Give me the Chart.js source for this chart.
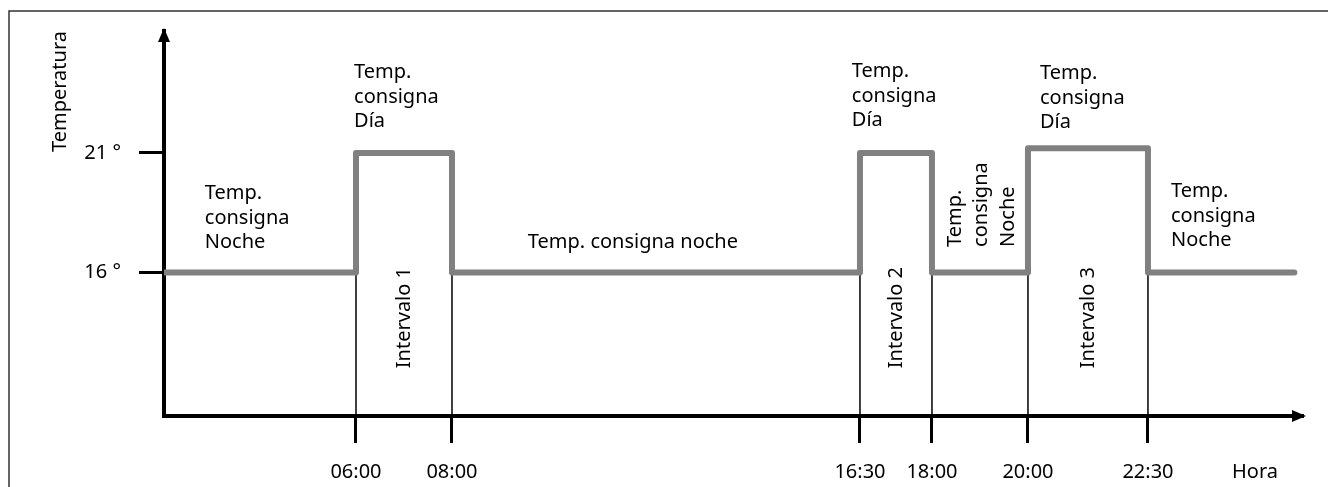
<!DOCTYPE html>
<html>
<head>
<meta charset="utf-8">
<script src="https://cdn.jsdelivr.net/npm/chart.js@4.4.0/dist/chart.umd.min.js"></script>
<style>
	html, body { margin: 0; padding: 0; background: #fff; }
	canvas { display: block; }
</style>
</head>
<body>
<canvas id="myChart" width="1328" height="487"></canvas>
<script>
	// hora del cambio (h) y temperatura de consigna desde ese momento
	var horas = [2, 6, 8, 16.5, 18, 20, 22.5, 25.55];
	var temps = [16, 21, 16, 21, 16, 21.2, 16, 16];

	var xTicks = [6, 8, 16.5, 18, 20, 22.5];
	var xTickLabels = ['06:00', '08:00', '16:30', '18:00', '20:00', '22:30'];
	var yTicks = [16, 21];
	var yTickLabels = ['16 °', '21 °'];

	var intervalos = ['Intervalo 1', 'Intervalo 2', 'Intervalo 3'];

	// textos del esquema (posicion en horas / grados)
	var etiquetas = [
		{ lineas: ['Temp.', 'consigna', 'Noche'], x: 2.85, y: 19.08 },
		{ lineas: ['Temp.', 'consigna', 'Día'], x: 5.96, y: 24.14 },
		{ lineas: ['Temp. consigna noche'], x: 9.58, y: 17.03 },
		{ lineas: ['Temp.', 'consigna', 'Día'], x: 16.33, y: 24.18 },
		{ lineas: ['Temp.', 'consigna', 'Día'], x: 20.25, y: 24.1 },
		{ lineas: ['Temp.', 'consigna', 'Noche'], x: 22.98, y: 19.16 },
		{ lineas: ['Temp.', 'consigna', 'Noche'], x: 18.6, y: 17.07, vertical: true },
		{ lineas: ['Hora'], x: 24.25, y: 7.4 }
	];

	Chart.defaults.font.family = "'Noto Sans', sans-serif";
	Chart.defaults.font.size = 20;
	Chart.defaults.color = '#000';

	function alinear(p, w) {
		return Math.round(p - w / 2) + w / 2;
	}

	var dibujo = {
		id : 'dibujo',
		beforeDraw : function(chart) {
			var ctx = chart.ctx;
			ctx.save();
			ctx.strokeStyle = '#333';
			ctx.lineWidth = 1.5;
			ctx.beginPath();
			ctx.moveTo(9, chart.height);
			ctx.lineTo(9, 11);
			ctx.lineTo(chart.width, 11);
			ctx.stroke();
			ctx.restore();
		},
		beforeDatasetsDraw : function(chart) {
			var ctx = chart.ctx, x = chart.scales.x, y = chart.scales.y;
			var bajo = y.getPixelForValue(Math.min.apply(null, temps));
			ctx.save();
			ctx.strokeStyle = '#000';
			ctx.lineWidth = 1.5;
			xTicks.forEach(function(t) {
				var px = x.getPixelForValue(t);
				ctx.beginPath();
				ctx.moveTo(px, bajo);
				ctx.lineTo(px, chart.chartArea.bottom);
				ctx.stroke();
			});
			ctx.restore();
		},
		afterDraw : function(chart) {
			var ctx = chart.ctx, x = chart.scales.x, y = chart.scales.y;
			var a = chart.chartArea;
			var ax = alinear(a.left, 4), ay = alinear(a.bottom, 4);
			ctx.save();
			ctx.fillStyle = '#000';
			// flechas de los ejes
			ctx.beginPath();
			ctx.moveTo(ax, a.top - 3);
			ctx.lineTo(ax - 6, a.top + 11);
			ctx.lineTo(ax + 6, a.top + 11);
			ctx.closePath();
			ctx.fill();
			ctx.beginPath();
			ctx.moveTo(a.right + 3, ay);
			ctx.lineTo(a.right - 11, ay - 6);
			ctx.lineTo(a.right - 11, ay + 6);
			ctx.closePath();
			ctx.fill();

			ctx.font = "20px 'Noto Sans'";
			ctx.textAlign = 'left';
			ctx.textBaseline = 'alphabetic';
			etiquetas.forEach(function(e) {
				var px = x.getPixelForValue(e.x), py = y.getPixelForValue(e.y);
				if (e.vertical) {
					ctx.save();
					ctx.translate(px, py);
					ctx.rotate(-Math.PI / 2);
					e.lineas.forEach(function(l, i) { ctx.fillText(l, 0, i * 26.5); });
					ctx.restore();
				} else {
					e.lineas.forEach(function(l, i) { ctx.fillText(l, px, py + i * 24.7); });
				}
			});

			ctx.textBaseline = 'middle';
			intervalos.forEach(function(t, k) {
				var mid = (xTicks[2 * k] + xTicks[2 * k + 1]) / 2;
				ctx.save();
				ctx.translate(x.getPixelForValue(mid), y.getPixelForValue(12));
				ctx.rotate(-Math.PI / 2);
				ctx.fillText(t, 0, 0);
				ctx.restore();
			});
			ctx.restore();
		}
	};

	var ctx = document.getElementById('myChart');
	var myChart = new Chart(ctx, {
		type : 'line',
		data : {
			datasets : [ {
				label : 'Temperatura',
				data : horas.map(function(h, i) { return { x : h, y : temps[i] }; }),
				borderColor : '#808080',
				borderWidth : 6,
				borderJoinStyle : 'round',
				borderCapStyle : 'round',
				stepped : 'before',
				pointRadius : 0,
				fill : false
			} ]
		},
		options : {
			responsive : false,
			animation : false,
			layout : { padding : { left : 0, top : 31, right : 25, bottom : 0 } },
			plugins : {
				legend : { display : false },
				tooltip : { enabled : false }
			},
			scales : {
				x : {
					type : 'linear',
					min : 2,
					max : 25.73,
					z : 1,
					afterBuildTicks : function(scale) {
						scale.ticks = xTicks.map(function(v) { return { value : v }; });
					},
					afterFit : function(scale) { scale.height = 71; },
					ticks : {
						autoSkip : false,
						maxRotation : 0,
						padding : 17,
						callback : function(v) { return xTickLabels[xTicks.indexOf(v)]; }
					},
					grid : {
						drawOnChartArea : false,
						tickLength : 27,
						tickWidth : 3,
						tickColor : '#000'
					},
					border : { color : '#000', width : 4 }
				},
				y : {
					min : 10,
					max : 26.1,
					z : 1,
					afterBuildTicks : function(scale) {
						scale.ticks = yTicks.map(function(v) { return { value : v }; });
					},
					afterFit : function(scale) { scale.width = 164; },
					ticks : {
						padding : 18,
						callback : function(v) { return yTickLabels[yTicks.indexOf(v)]; }
					},
					grid : {
						drawOnChartArea : false,
						tickLength : 25,
						tickWidth : 3,
						tickColor : '#000'
					},
					border : { color : '#000', width : 4 },
					title : {
						display : true,
						text : 'Temperatura',
						align : 'end',
						padding : { top : 48, bottom : 0 }
					}
				}
			}
		},
		plugins : [ dibujo ]
	});
</script>
</body>
</html>
